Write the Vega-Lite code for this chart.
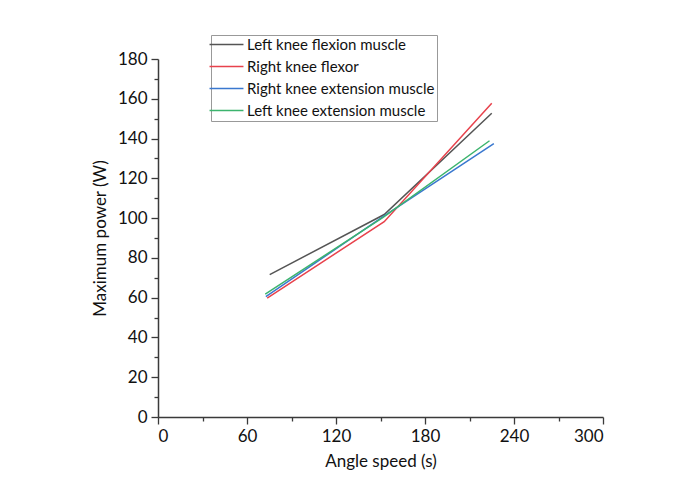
{
  "$schema": "https://vega.github.io/schema/vega-lite/v6.json",
  "width": 445,
  "height": 358,
  "autosize": {"type": "none"},
  "padding": {"left": 158, "top": 59, "right": 78, "bottom": 72},
  "background": "white",
  "config": {
    "view": {"stroke": null},
    "font": "Lato",
    "axis": {"grid": false, "domainColor": "#3a3a3a", "tickColor": "#3a3a3a", "domainWidth": 1.5, "tickWidth": 1.3, "labelColor": "#111", "titleColor": "#111", "labelFont": "Lato", "titleFont": "Lato", "labelFontSize": 17, "titleFontSize": 17, "titleFontWeight": "normal"}
  },
  "data": {
    "values": [
      {"series": "Left knee flexion muscle", "speed": 75.3, "power": 71.6},
      {"series": "Left knee flexion muscle", "speed": 152.5, "power": 101.8},
      {"series": "Left knee flexion muscle", "speed": 225, "power": 152.7},
      {"series": "Right knee flexor", "speed": 73.6, "power": 59.8},
      {"series": "Right knee flexor", "speed": 152.5, "power": 98.2},
      {"series": "Right knee flexor", "speed": 225, "power": 157.7},
      {"series": "Right knee extension muscle", "speed": 72.7, "power": 60.5},
      {"series": "Right knee extension muscle", "speed": 151.5, "power": 100.6},
      {"series": "Right knee extension muscle", "speed": 226.4, "power": 137.4},
      {"series": "Left knee extension muscle", "speed": 72.3, "power": 61.8},
      {"series": "Left knee extension muscle", "speed": 151.5, "power": 100.2},
      {"series": "Left knee extension muscle", "speed": 223.5, "power": 138.9}
    ]
  },
  "mark": {"type": "line", "strokeWidth": 1.5},
  "encoding": {
    "x": {
      "field": "speed", "type": "quantitative",
      "scale": {"domain": [0, 300], "nice": false},
      "axis": {
        "title": "Angle speed (s)",
        "values": [0, 30, 60, 90, 120, 150, 180, 210, 240, 270, 300],
        "labelExpr": "datum.value % 60 === 0 ? datum.label : ''",
        "tickSize": {"condition": {"test": "datum.value % 60 === 0", "value": 7}, "value": 4},
        "labelPadding": 4,
        "titlePadding": 9
      }
    },
    "y": {
      "field": "power", "type": "quantitative",
      "scale": {"domain": [0, 180], "nice": false},
      "axis": {
        "title": "Maximum power (W)",
        "values": [0, 10, 20, 30, 40, 50, 60, 70, 80, 90, 100, 110, 120, 130, 140, 150, 160, 170, 180],
        "labelExpr": "datum.value % 20 === 0 ? datum.label : ''",
        "tickSize": {"condition": {"test": "datum.value % 20 === 0", "value": 7}, "value": 4},
        "labelPadding": 4,
        "titlePadding": 8
      }
    },
    "color": {
      "field": "series", "type": "nominal",
      "scale": {
        "domain": ["Left knee flexion muscle", "Right knee flexor", "Right knee extension muscle", "Left knee extension muscle"],
        "range": ["#555555", "#e8424c", "#3a78cf", "#3cb46e"]
      },
      "legend": {
        "title": null,
        "orient": "none",
        "legendX": 53,
        "legendY": -24,
        "direction": "vertical",
        "symbolType": "M-3,0H3",
        "symbolSize": 128,
        "symbolOffset": 6,
        "symbolStrokeWidth": 1.5,
        "labelOffset": 13,
        "labelFontSize": 15,
        "labelFont": "Lato",
        "labelColor": "#111",
        "rowPadding": 6,
        "padding": 2,
        "fillColor": "white",
        "strokeColor": "#999999",
        "labelLimit": 400
      }
    }
  }
}
